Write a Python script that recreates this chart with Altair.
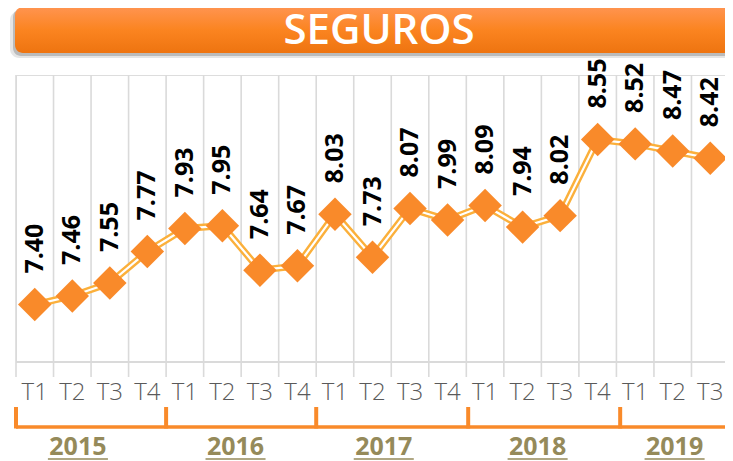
import altair as alt
import pandas as pd

quarters = ["T1", "T2", "T3", "T4", "T1", "T2", "T3", "T4", "T1", "T2", "T3", "T4",
            "T1", "T2", "T3", "T4", "T1", "T2", "T3"]
years_q = [2015] * 4 + [2016] * 4 + [2017] * 4 + [2018] * 4 + [2019] * 3
values = [7.40, 7.46, 7.55, 7.77, 7.93, 7.95, 7.64, 7.67, 8.03, 7.73, 8.07, 7.99,
          8.09, 7.94, 8.02, 8.55, 8.52, 8.47, 8.42]
year_labels = ["2015", "2016", "2017", "2018", "2019"]
year_centers = [1.15, 5.35, 9.3, 13.4, 17.05]
year_bounds = [-0.5, 3.5, 7.5, 11.55, 15.6]
title_text = "SEGUROS"

idx = list(range(len(values)))
df = pd.DataFrame({"i": idx, "q": quarters, "year": years_q, "v": values,
                   "lab": [f"{v:.2f}" for v in values]})
df_years = pd.DataFrame({"yl": year_labels, "c": year_centers,
                         "u1": [c - 0.8 for c in year_centers],
                         "u2": [c + 0.8 for c in year_centers]})
df_bounds = pd.DataFrame({"b": year_bounds})
df_span = pd.DataFrame({"a": [-0.5], "b": [19.0]})
df_grid = pd.DataFrame({"g": [i - 0.5 for i in range(len(values) + 1)]})

W, H = 709, 287
xs = alt.Scale(domain=[-0.5, 18.5], range=[0, 713], nice=False, zero=False)
ys = alt.Scale(domain=[7.0, 9.0], nice=False, zero=False)

ORANGE = "#F98A2A"
LINE = "#FBB03B"
GRID = "#DADADA"
OLIVE = "#958A5A"

base = alt.Chart(df)

frame = base.mark_point(opacity=0).encode(
    x=alt.X("i:Q", scale=xs,
            axis=alt.Axis(grid=False, labels=False, ticks=False, domain=False, title=None)),
    y=alt.Y("v:Q", scale=ys, axis=None),
)

grid = alt.Chart(df_grid).mark_rule(color=GRID, strokeWidth=1.6).encode(
    x=alt.X("g:Q", scale=xs), y=alt.value(0), y2=alt.value(H + 15))
domain = alt.Chart(df_span).mark_rule(color=GRID, strokeWidth=2).encode(
    x=alt.X("a:Q", scale=xs), x2="b:Q", y=alt.value(H))

thick = base.mark_line(color=LINE, strokeWidth=7).encode(
    x=alt.X("i:Q", scale=xs), y=alt.Y("v:Q", scale=ys))
thin = base.mark_line(color="white", strokeWidth=2.2).encode(
    x=alt.X("i:Q", scale=xs), y=alt.Y("v:Q", scale=ys))
pts = base.mark_point(shape="diamond", size=1120, filled=True, color=ORANGE, opacity=1).encode(
    x=alt.X("i:Q", scale=xs), y=alt.Y("v:Q", scale=ys))
labels = base.mark_text(angle=270, align="left", baseline="middle", dx=31,
                        font="Open Sans", fontWeight="bold", fontSize=25, color="black").encode(
    x=alt.X("i:Q", scale=xs), y=alt.Y("v:Q", scale=ys), text="lab:N")

qlabels = base.mark_text(baseline="middle", align="center", font="Open Sans",
                         fontWeight=300, fontSize=24, color="#5A5A5A").encode(
    x=alt.X("i:Q", scale=xs), y=alt.value(318), text="q:N")

span = alt.Chart(df_span).mark_rule(color=ORANGE, strokeWidth=3.5).encode(
    x=alt.X("a:Q", scale=xs), x2="b:Q", y=alt.value(352))
ticks = alt.Chart(df_bounds).mark_rule(color=ORANGE, strokeWidth=4).encode(
    x=alt.X("b:Q", scale=xs), y=alt.value(332), y2=alt.value(353.5))

ylabels = alt.Chart(df_years).mark_text(baseline="middle", align="center", font="Open Sans",
                                        fontWeight="bold", fontSize=25, color=OLIVE).encode(
    x=alt.X("c:Q", scale=xs), y=alt.value(372), text="yl:N")
yunder = alt.Chart(df_years).mark_rule(color=OLIVE, strokeWidth=1.5).encode(
    x=alt.X("u1:Q", scale=xs), x2="u2:Q", y=alt.value(384))

shadow1 = alt.Chart(df_span).mark_rect(cornerRadius=9, color="#000000", opacity=0.10).encode(
    x=alt.value(-6), x2=alt.value(740), y=alt.value(-64), y2=alt.value(-17))
shadow2 = alt.Chart(df_span).mark_rect(cornerRadius=8, color="#000000", opacity=0.18).encode(
    x=alt.value(-3), x2=alt.value(740), y=alt.value(-66), y2=alt.value(-19))
bar = alt.Chart(df_span).mark_rect(
    cornerRadius=8,
    fill=alt.LinearGradient(gradient="linear", x1=0, x2=0, y1=0, y2=1,
                            stops=[alt.GradientStop(color="#FF9450", offset=0),
                                   alt.GradientStop(color="#FB8420", offset=0.5),
                                   alt.GradientStop(color="#EE7410", offset=1)])).encode(
    x=alt.value(-1), x2=alt.value(740), y=alt.value(-68), y2=alt.value(-22))
title = alt.Chart(df_span).mark_text(text=title_text, font="Open Sans", fontWeight=600,
                                     fontSize=42, color="white", baseline="middle",
                                     align="center").encode(
    x=alt.value(363), y=alt.value(-44))

chart = alt.layer(frame, grid, domain, shadow1, shadow2, bar, title, span, ticks, qlabels,
                  ylabels, yunder, thick, thin, pts, labels).properties(
    width=W, height=H,
    autosize=alt.AutoSizeParams(type="none"),
    padding={"left": 8, "top": 67, "right": 0, "bottom": 99},
).configure_view(stroke=None).configure(background="white")

chart.save("out.html", embed_options={"renderer": "svg", "actions": False})
